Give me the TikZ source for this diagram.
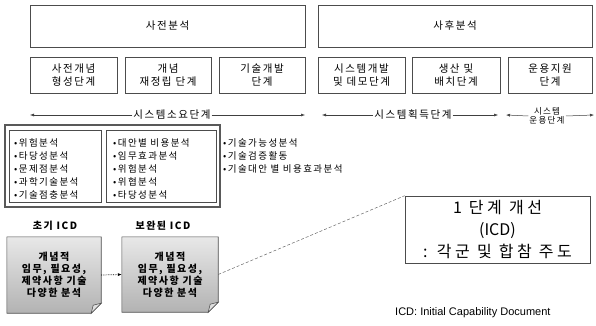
\documentclass[tikz,border=0pt]{standalone}
\usepackage{fontspec}
\setmainfont{Liberation Sans}
\newfontfamily\kr[LetterSpace=15]{Noto Sans CJK KR}
\newfontfamily\krw[LetterSpace=22]{Noto Sans CJK KR}
\newfontfamily\krn{Noto Sans CJK KR}
\usetikzlibrary{arrows.meta,calc,backgrounds}

\tikzset{
  stagebox/.style={draw=black!70, line width=0.6pt, inner sep=0pt, align=center,
    font=\kr\fontsize{10.5}{12.5}\selectfont},
  phaselbl/.style={inner sep=1pt, align=center, font=\kr\fontsize{10.5}{11}\selectfont},
  listtxt/.style={inner sep=0pt, align=left, font=\kr\fontsize{9.5}{13}\selectfont},
  notetxt/.style={inner sep=0pt, align=center, font=\kr\bfseries\fontsize{10}{12}\selectfont},
  phasearrow/.style={black!75, line width=0.5pt, -{Latex[length=4pt,width=3pt]}},
}

\begin{document}
\begin{tikzpicture}[x=1pt,y=-1pt]
\useasboundingbox (0,0) rectangle (596,326);

% analysis boxes
\node[stagebox, minimum width=275, minimum height=42] (pre) at (167.5,26) {사전분석};
\node[stagebox, minimum width=274, minimum height=42] (post) at (455,26) {사후분석};
\node[stagebox, minimum width=87, minimum height=36] (s1) at (73.5,75) {사전개념\\형성단계};
\node[stagebox, minimum width=86, minimum height=36] (s2) at (168,75) {개념\\재정립 단계};
\node[stagebox, minimum width=86, minimum height=36] (s3) at (262,75) {기술개발\\단계};
\node[stagebox, minimum width=87, minimum height=36] (s4) at (361.5,75) {시스템개발\\및 데모단계};
\node[stagebox, minimum width=88, minimum height=36] (s5) at (456,75) {생산 및\\배치단계};
\node[stagebox, minimum width=84, minimum height=36] (s6) at (550,75) {운용지원\\단계};

% phases
\node[phaselbl] (ph1) at (172,115) {시스템소요단계};
\node[phaselbl] (ph2) at (413,115) {시스템획득단계};
\node[phaselbl, font=\kr\fontsize{8.5}{9.5}\selectfont] (ph3) at (547,116) {시스템\\운용단계};
\coordinate (ph1l) at (30,115);
\coordinate (ph1r) at (305,115);
\coordinate (ph2l) at (322,115);
\coordinate (ph2r) at (498,115);
\coordinate (ph3l) at (506,115);
\coordinate (ph3r) at (594,115);
\draw[phasearrow] (ph1.west) -- (ph1l);
\draw[phasearrow] (ph1.east) -- (ph1r);
\draw[phasearrow] (ph2.west) -- (ph2l);
\draw[phasearrow] (ph2.east) -- (ph2r);
\draw[phasearrow] (ph3.west) -- (ph3l);
\draw[phasearrow] (ph3.east) -- (ph3r);

% requirement analyses
\draw[black!65, line width=1.4pt] (5,125) rectangle (220,207);
\draw[black!70, line width=0.6pt] (9,130) rectangle (101,202);
\draw[black!70, line width=0.6pt] (106,130) rectangle (216,202);
\node[listtxt, anchor=west] (lstA) at (14,169) {•위험분석\\•타당성분석\\•문제점분석\\•과학기술분석\\•기술점충분석};
\node[listtxt, anchor=west] (lstB) at (113,169) {•대안별 비용분석\\•임무효과분석\\•위험분석\\•위협분석\\•타당성분석};
\node[listtxt, anchor=west] (lstC) at (223,156) {•기술가능성분석\\•기술검증활동\\•기술대안 별 비용효과분석};

% ICD documents
\node[phaselbl, font=\kr\bfseries\fontsize{10}{11}\selectfont] (iniL) at (55,226) {초기 ICD};
\node[phaselbl, font=\kr\bfseries\fontsize{10}{11}\selectfont] (revL) at (163,226) {보완된 ICD};
\node[notetxt, minimum width=94, minimum height=76] (ini) at (54,275) {개념적\\임무, 필요성,\\제약사항 기술\\다양한 분석};
\node[notetxt, minimum width=96, minimum height=75] (rev) at (170,274.5) {개념적\\임무, 필요성,\\제약사항 기술\\다양한 분석};
\begin{scope}[on background layer]
\foreach \n in {ini,rev}{
  \shade[top color=gray!18, bottom color=gray!60, draw=black!70, line width=0.6pt]
    (\n.north west) -- (\n.north east) -- ($(\n.south east)+(0,-10)$)
    -- ($(\n.south east)+(-10,0)$) -- (\n.south west) -- cycle;
  \filldraw[fill=gray!25, draw=black!70, line width=0.5pt]
    ($(\n.south east)+(0,-10)$) -- ($(\n.south east)+(-10,0)$) -- ($(\n.south east)+(-8,-8)$) -- cycle;
}
\end{scope}
\draw[densely dotted, line width=0.7pt, -{Latex[length=4pt,width=3pt]}] (ini.east) -- (rev.west);

% ICD box
\node[draw=black!70, line width=0.6pt, minimum width=185, minimum height=67, inner sep=0pt,
  align=center, font=\krw\fontsize{16}{22}\selectfont] (icd) at (497.5,229.5) {1 단계 개선\\{\krn (ICD)}\\: 각군 및 합참 주도};
\draw[densely dashed, black!60, line width=0.5pt] (rev.east) -- (icd.north west);

\node[anchor=west, inner sep=0pt, font=\fontsize{11}{12}\selectfont] (note) at (395,313) {ICD: Initial Capability Document};
\end{tikzpicture}
\end{document}
